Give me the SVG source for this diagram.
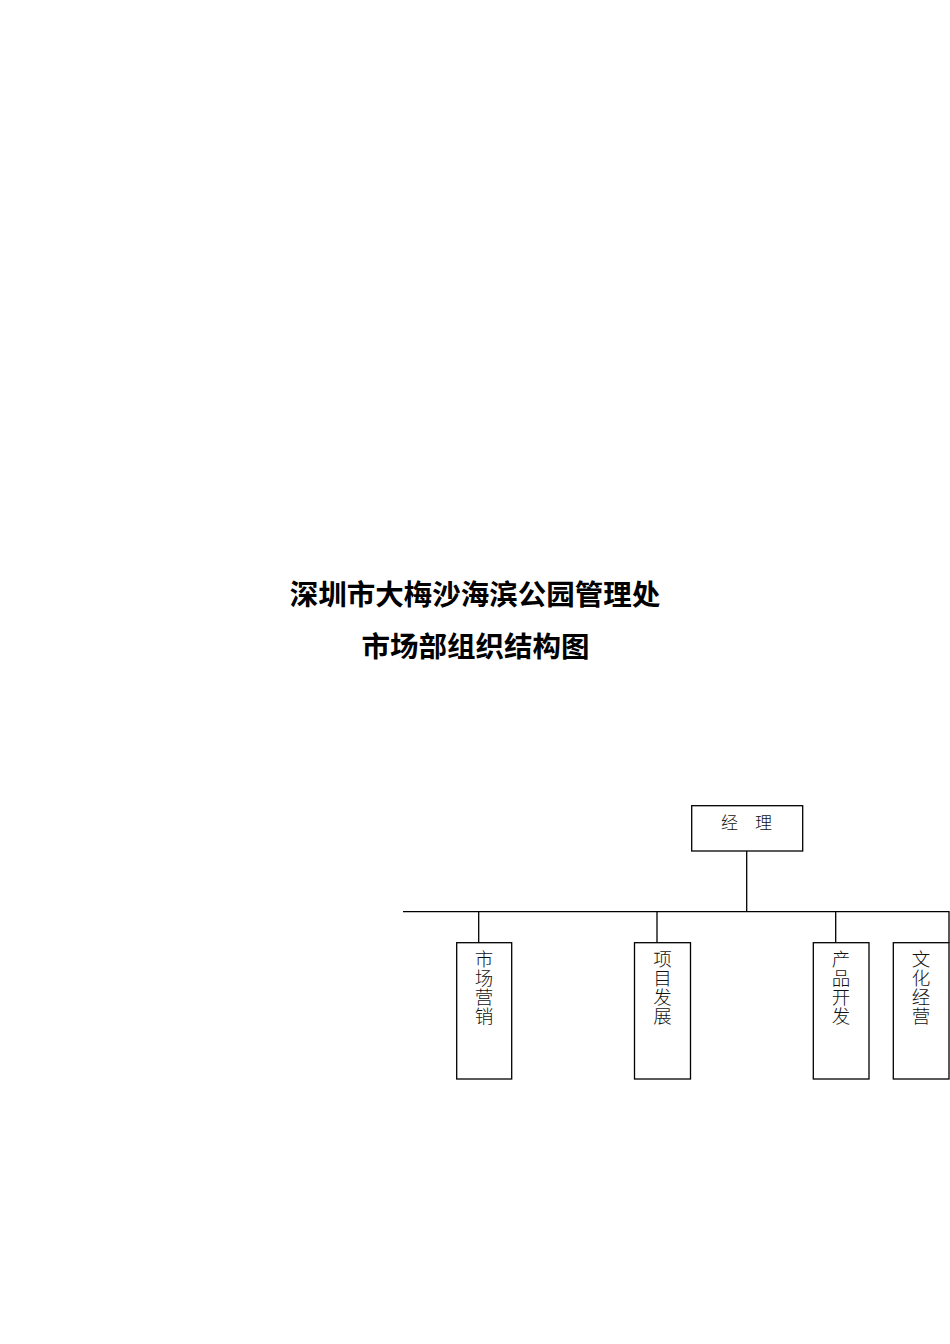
<svg xmlns="http://www.w3.org/2000/svg" width="950" height="1344" viewBox="0 0 950 1344">
<style>
.title{font-family:"Liberation Sans","Noto Sans CJK SC",sans-serif;font-size:28.5px;font-weight:bold;fill:#000;text-anchor:middle}
.box{fill:#fff;stroke:#000;stroke-width:1.3}
.lbl{font-family:"Liberation Serif","Noto Sans CJK SC",serif;font-size:17px;font-weight:300;fill:#111;text-anchor:middle}
.vl{font-family:"Liberation Serif","Noto Sans CJK SC",serif;font-size:18.5px;font-weight:300;fill:#111;text-anchor:middle}
.conn{stroke:#000;stroke-width:1.3;fill:none}
</style>
<rect width="950" height="1344" fill="#fff"/>
<g id="title">
<text class="title" x="475" y="605">深圳市大梅沙海滨公园管理处</text>
<text class="title" x="475.5" y="657">市场部组织结构图</text>
</g>
<g id="connectors">
<line class="conn" x1="746.7" y1="851" x2="746.7" y2="911.7"/>
<polyline class="conn" points="403,911.7 949,911.7 949,942.7"/>
<line class="conn" x1="478.7" y1="911.7" x2="478.7" y2="942.7"/>
<line class="conn" x1="657" y1="911.7" x2="657" y2="942.7"/>
<line class="conn" x1="835.7" y1="911.7" x2="835.7" y2="942.7"/>
</g>
<g id="manager">
<rect class="box" x="691.7" y="805.7" width="111" height="45.3"/>
<text class="lbl" x="746.5" y="829">经　理</text>
</g>
<g id="marketing">
<rect class="box" x="456.7" y="942.7" width="55" height="136.3"/>
<text class="vl" x="484" y="966">市</text>
<text class="vl" x="484" y="985">场</text>
<text class="vl" x="484" y="1004">营</text>
<text class="vl" x="484" y="1023">销</text>
</g>
<g id="project">
<rect class="box" x="634.5" y="942.7" width="56" height="136.3"/>
<text class="vl" x="662.5" y="966">项</text>
<text class="vl" x="662.5" y="985">目</text>
<text class="vl" x="662.5" y="1004">发</text>
<text class="vl" x="662.5" y="1023">展</text>
</g>
<g id="product">
<rect class="box" x="813.3" y="942.7" width="55.7" height="136.3"/>
<text class="vl" x="841" y="966">产</text>
<text class="vl" x="841" y="985">品</text>
<text class="vl" x="841" y="1004">开</text>
<text class="vl" x="841" y="1023">发</text>
</g>
<g id="culture">
<rect class="box" x="893.3" y="942.7" width="55.7" height="136.3"/>
<text class="vl" x="921" y="966">文</text>
<text class="vl" x="921" y="985">化</text>
<text class="vl" x="921" y="1004">经</text>
<text class="vl" x="921" y="1023">营</text>
</g>
</svg>
